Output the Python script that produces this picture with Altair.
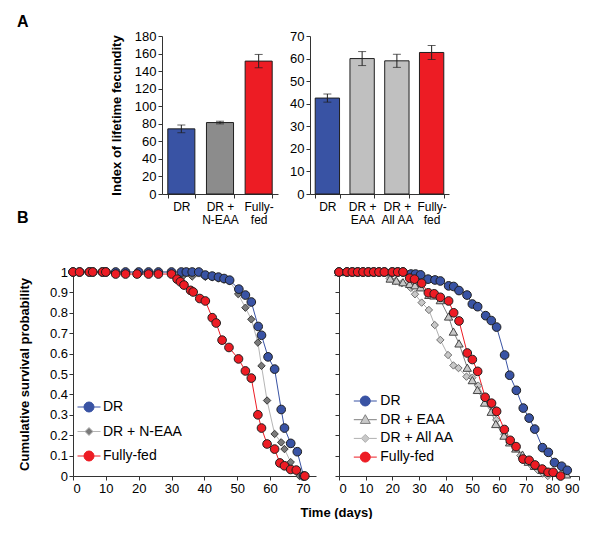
import altair as alt
import pandas as pd

FONT = "Liberation Sans"
INK = "#1f1f1f"
AXIS = "#333333"
BLUE = "#3953a4"
RED = "#ed1c24"

# ---------------- Panel A data (index of lifetime fecundity, mean and s.e.) -------------
a1_groups = ["DR", "DR +\nN-EAA", "Fully-\nfed"]
a1_means = [74.2, 81.4, 151.4]
a1_sem = [4.4, 1.5, 7.6]

a2_groups = ["DR", "DR +\nEAA", "DR +\nAll AA", "Fully-\nfed"]
a2_means = [42.5, 60.0, 59.0, 62.7]
a2_sem = [1.8, 3.1, 2.9, 3.1]

# ---------------- Panel B data (cumulative survival) -------------
b1_series = ["DR", "DR + N-EAA", "Fully-fed"]
b1_dr_day = [0, 2, 5, 6, 9, 10, 13, 16, 20, 23, 26, 30, 33, 34.5, 36.3, 38.3, 40.3, 42.4, 44.3, 46, 47.7,
             50.5, 52.5, 54.3, 56.4, 57.4, 59.4, 61.4, 63.4, 64.4, 66.3, 68.3, 70.2]
b1_dr_surv = [1, 1, 1, 1, 1, 1, 1, 1, 1, 1, 1, 1, 1, 1, 1, 1, 0.985, 0.98, 0.975, 0.968, 0.96,
              0.916, 0.887, 0.853, 0.733, 0.69, 0.584, 0.524, 0.326, 0.235, 0.16, 0.119, 0]
b1_ne_day = [0, 2, 5, 6, 9, 10, 13, 16, 20, 23, 26, 30, 33.5, 36.3, 40.3, 42.4, 44.3, 46, 47.7,
             50.3, 52.5, 54.3, 56.3, 57.4, 59.1, 61.4, 63.4, 64.4, 66.3, 69]
b1_ne_surv = [1, 1, 1, 1, 1, 1, 1, 1, 1, 1, 1, 1, 0.98, 0.978, 0.976, 0.974, 0.968, 0.963, 0.956,
              0.892, 0.825, 0.768, 0.654, 0.54, 0.37, 0.206, 0.165, 0.132, 0.068, 0]
b1_ff_day = [0, 2, 5, 6, 9, 10, 13, 16, 19.5, 23, 26, 30, 31.7, 32.7, 33.8, 35.8, 36.6, 38.6, 40.3,
             42.4, 43.6, 45.4, 47.5, 50.4, 52.5, 54.3, 56.3, 57.4, 59.1, 61.4, 63, 64.4, 66.3, 68, 70.6]
b1_ff_surv = [1, 1, 1, 1, 1, 1, 0.99, 0.99, 0.99, 0.99, 0.99, 0.99, 0.965, 0.952, 0.936, 0.91, 0.902,
              0.87, 0.858, 0.776, 0.75, 0.666, 0.63, 0.574, 0.515, 0.48, 0.30, 0.235, 0.157, 0.132,
              0.064, 0.05, 0.032, 0.029, 0]

b2_series = ["DR", "DR + EAA", "DR + All AA", "Fully-fed"]
b2_dr_day = [0, 3, 5, 7, 9, 11, 13, 15, 17, 20, 22, 24, 27, 28.7, 30.6, 33.4, 36, 38, 41.1, 43, 45, 48,
             50, 52, 55, 57.1, 59.1, 62.1, 64, 66.5, 69.1, 71.3, 73.4, 76.3, 78.5, 80.8, 83.5, 85.6]
b2_dr_surv = [1, 1, 1, 1, 1, 1, 1, 1, 1, 1, 1, 1, 0.99, 0.99, 0.986, 0.965, 0.961, 0.956, 0.932, 0.929,
              0.909, 0.887, 0.843, 0.83, 0.786, 0.762, 0.73, 0.593, 0.494, 0.42, 0.333, 0.284, 0.23,
              0.139, 0.116, 0.066, 0.048, 0.028]
b2_eaa_day = [0, 3, 5, 7, 9, 11, 13, 15, 17, 19.2, 21.5, 24, 26.5, 28.5, 30.6, 33.7, 35.6, 38, 41.1,
              42.9, 45, 48.1, 50, 51.9, 54.6, 57.1, 58.8, 61.9, 64, 66.3, 68.8, 71, 73.3, 76.2, 78.2, 85.3]
b2_eaa_surv = [1, 1, 1, 1, 1, 1, 1, 1, 1, 0.968, 0.958, 0.95, 0.942, 0.935, 0.925, 0.888, 0.885, 0.862,
               0.782, 0.708, 0.65, 0.531, 0.47, 0.422, 0.36, 0.315, 0.255, 0.198, 0.165, 0.135, 0.105,
               0.07, 0.05, 0.03, 0.02, 0.008]
b2_all_day = [0, 3, 5, 7, 9, 11, 13, 15, 17, 19, 21.2, 23.6, 26.9, 28.5, 31, 33.7, 35.9, 38, 40.9, 42.9,
              44.8, 47.8, 50, 52.2, 55.3, 57.5, 59, 62, 64, 65.8, 68, 70, 72.3, 74.5, 76.5, 78.3]
b2_all_surv = [1, 1, 1, 1, 1, 1, 1, 1, 1, 0.968, 0.956, 0.945, 0.922, 0.891, 0.85, 0.814, 0.74, 0.667,
               0.593, 0.542, 0.529, 0.487, 0.482, 0.443, 0.369, 0.34, 0.275, 0.205, 0.165, 0.148, 0.1,
               0.075, 0.05, 0.03, 0.012, 0.0]
b2_ff_day = [0, 3, 5, 7, 9, 11, 13, 15, 17, 20, 22, 24, 26.5, 28.3, 31, 33.5, 35.7, 38, 41.1, 43, 45,
             48.1, 50, 52, 54.8, 57.2, 59.1, 62, 64.2, 66.4, 69, 71.3, 73.5, 76.2, 78.4, 80.3, 83.1]
b2_ff_surv = [1, 1, 1, 1, 1, 1, 1, 1, 1, 1, 1, 1, 0.97, 0.965, 0.945, 0.898, 0.893, 0.876, 0.858, 0.80,
              0.76, 0.603, 0.571, 0.513, 0.386, 0.357, 0.317, 0.228, 0.175, 0.144, 0.083, 0.077, 0.054,
              0.034, 0.018, 0.018, 0.0]

x_ticks_b1 = [0, 10, 20, 30, 40, 50, 60, 70]
x_ticks_b2 = [0, 10, 20, 30, 40, 50, 60, 70, 80, 90]
y_ticks_b = [0, 0.1, 0.2, 0.3, 0.4, 0.5, 0.6, 0.7, 0.8, 0.9, 1]

# legend glyphs: marker with a short line through it
LEG_CIRCLE = "M-2.3,0L-1,0M1,0L2.3,0M1,0A1,1,0,1,1,-1,0A1,1,0,1,1,1,0Z"
LEG_DIAMOND = "M-2.3,0L-0.8,0M0.8,0L2.3,0M0,-0.8L0.8,0L0,0.8L-0.8,0Z"
LEG_TRIANGLE = "M-2.3,0L-0.57,0M0.57,0L2.3,0M0,-1L1,0.75L-1,0.75Z"


def pick_expr(names, outputs):
    expr = "'" + outputs[-1] + "'"
    for n, o in reversed(list(zip(names[:-1], outputs[:-1]))):
        expr = "datum.value === '" + n + "' ? '" + o + "' : " + expr
    return expr


def bar_panel(groups, means, sems, colors, ymax, ystep, width, height, ytitle, title):
    df = pd.DataFrame({"grp": groups, "mean": means, "sem": sems})
    df["lo"] = df["mean"] - df["sem"]
    df["hi"] = df["mean"] + df["sem"]
    xenc = alt.X("grp:N", sort=groups, title=None,
                 scale=alt.Scale(paddingInner=0.3, paddingOuter=0.15),
                 axis=alt.Axis(labelAngle=0, tickBand="extent",
                               labelExpr="split(datum.label, '\\n')",
                               labelFontSize=12, labelLineHeight=13.5, labelPadding=3))
    ysc = alt.Scale(domain=[0, ymax], nice=False)
    yaxis = alt.Axis(values=list(range(0, ymax + 1, ystep)), labelFontSize=13, labelPadding=2,
                     titleFontSize=13, titleFontWeight="bold", titlePadding=11)
    base = alt.Chart(df)
    bars = base.mark_bar(stroke=INK, strokeWidth=1).encode(
        x=xenc,
        y=alt.Y("mean:Q", scale=ysc, axis=yaxis, title=ytitle),
        fill=alt.Fill("grp:N", scale=alt.Scale(domain=groups, range=colors), legend=None),
    )
    rule = base.mark_rule(color=INK, strokeWidth=1).encode(
        x=xenc, y=alt.Y("lo:Q", scale=ysc, axis=yaxis, title=ytitle), y2="hi:Q")
    cap_lo = base.mark_tick(color=INK, thickness=1, size=8, orient="horizontal").encode(
        x=xenc, y=alt.Y("lo:Q", scale=ysc, axis=yaxis, title=ytitle))
    cap_hi = base.mark_tick(color=INK, thickness=1, size=8, orient="horizontal").encode(
        x=xenc, y=alt.Y("hi:Q", scale=ysc, axis=yaxis, title=ytitle))
    layered = alt.layer(bars, rule, cap_lo, cap_hi).properties(width=width, height=height)
    if title is not None:
        layered = layered.properties(title=title)
    return layered


def long_df(names, days, survs):
    frames = [pd.DataFrame({"series": n, "day": d, "surv": s}) for n, d, s in zip(names, days, survs)]
    return pd.concat(frames, ignore_index=True)


def surv_panel(names, days, survs, line_cols, fill_cols, stroke_cols, shapes, sizes, leg_paths,
               draw_order, xmax, width, height, yaxis, xaxis, leg_x, leg_y, row_pad, lab_off):
    df = long_df(names, days, survs)
    xenc = alt.X("day:Q", scale=alt.Scale(domain=[0, xmax], nice=False, zero=False), axis=xaxis)
    yenc = alt.Y("surv:Q", scale=alt.Scale(domain=[0, 1], nice=False), axis=yaxis)
    fill_scale = alt.Scale(domain=names, range=fill_cols)
    legend = alt.Legend(
        orient="none", legendX=leg_x, legendY=leg_y, title=None,
        symbolType={"expr": pick_expr(names, leg_paths)},
        symbolStrokeColor={"expr": pick_expr(names, line_cols)},
        symbolSize=100, symbolStrokeWidth=1, symbolOpacity=1,
        labelFont=FONT, labelFontSize=14, labelColor="#000", labelOffset=lab_off,
        rowPadding=row_pad, padding=0,
    )
    layers = []
    for idx in draw_order:
        name = names[idx]
        layers.append(
            alt.Chart(df).transform_filter(alt.datum.series == name)
            .mark_line(strokeWidth=1, color=line_cols[idx])
            .encode(x=xenc, y=yenc)
        )
    for idx in draw_order:
        name = names[idx]
        layers.append(
            alt.Chart(df).transform_filter(alt.datum.series == name)
            .mark_point(shape=shapes[idx], size=sizes[idx], filled=True, opacity=1,
                        stroke=stroke_cols[idx], strokeWidth=1)
            .encode(x=xenc, y=yenc,
                    fill=alt.Fill("series:N", scale=fill_scale, legend=legend))
        )
    return alt.layer(*layers).properties(width=width, height=height)


spacer = alt.Chart(pd.DataFrame({"v": [0]})).mark_point(opacity=0).encode(
    x=alt.X("v:Q", axis=None), y=alt.Y("v:Q", axis=None)).properties(width=57, height=158)

A1 = bar_panel(a1_groups, a1_means, a1_sem, [BLUE, "#8c8c8c", RED], 180, 20, 116, 158,
               "Index of lifetime fecundity",
               alt.TitleParams("A", anchor="start", frame="group", dx=-145, offset=0,
                               fontSize=16, fontWeight="bold", font=FONT, color="#000"))
A2 = bar_panel(a2_groups, a2_means, a2_sem, [BLUE, "#c0c0c0", "#c0c0c0", RED], 70, 10, 139, 158,
               None,
               alt.TitleParams("B", orient="bottom", anchor="start", frame="group", dx=-293, dy=-16,
                               offset=0, fontSize=16, fontWeight="bold", font=FONT, color="#000"))

yaxis_b1 = alt.Axis(values=y_ticks_b, format="~g", labelFontSize=13, labelPadding=1.5,
                    title="Cumulative survival probability", titleFontSize=13,
                    titleFontWeight="bold", titlePadding=18)
yaxis_b2 = alt.Axis(values=y_ticks_b, labels=False, title=None)
xaxis_b1 = alt.Axis(values=x_ticks_b1, labelFontSize=13, labelPadding=2, title=None)
xaxis_b2 = alt.Axis(values=x_ticks_b2, labelFontSize=13, labelPadding=2, title="Time (days)",
                    titleFontSize=13, titleFontWeight="bold", titleX=-3, titleAlign="center",
                    titlePadding=11)

B1 = surv_panel(
    b1_series, [b1_dr_day, b1_ne_day, b1_ff_day], [b1_dr_surv, b1_ne_surv, b1_ff_surv],
    [BLUE, "#b5b5b5", RED], [BLUE, "#7a7a7a", RED], [INK, "#3a3a3a", INK],
    ["circle", "diamond", "circle"], [75, 55, 75], [LEG_CIRCLE, LEG_DIAMOND, LEG_CIRCLE],
    [1, 0, 2], 74, 243, 204, yaxis_b1, xaxis_b1, 9, 128, 10.5, 7)

B2 = surv_panel(
    b2_series, [b2_dr_day, b2_eaa_day, b2_all_day, b2_ff_day],
    [b2_dr_surv, b2_eaa_surv, b2_all_surv, b2_ff_surv],
    [BLUE, "#7f7f7f", "#b0b0b0", RED], [BLUE, "#c8c8c8", "#c8c8c8", RED],
    [INK, "#444444", "#707070", INK],
    ["circle", "triangle-up", "diamond", "circle"], [75, 70, 55, 75],
    [LEG_CIRCLE, LEG_TRIANGLE, LEG_DIAMOND, LEG_CIRCLE],
    [2, 1, 0, 3], 90, 240, 204, yaxis_b2, xaxis_b2, 19.3, 122, 4.7, 8)

indep = dict(fill="independent")

rowA = alt.hconcat(spacer, A1, A2, spacing=32, bounds="flush").resolve_scale(**indep)
rowB = alt.hconcat(B1, B2, spacing=23, bounds="flush").resolve_scale(**indep).resolve_legend(
    fill="independent")

chart = alt.concat(rowA, rowB, columns=1, align="none", spacing=39).resolve_scale(**indep).resolve_legend(
    fill="independent").properties(
    padding={"left": 9, "top": 6, "right": 0, "bottom": 0}
).configure_view(stroke=None).configure_axis(
    labelFont=FONT, titleFont=FONT, labelColor="#000", titleColor="#000",
    domainColor=AXIS, tickColor=AXIS, grid=False, tickSize=4, domainWidth=1, tickWidth=1
).configure_title(font=FONT)

chart.save("out.html", embed_options={"renderer": "svg", "actions": False})
